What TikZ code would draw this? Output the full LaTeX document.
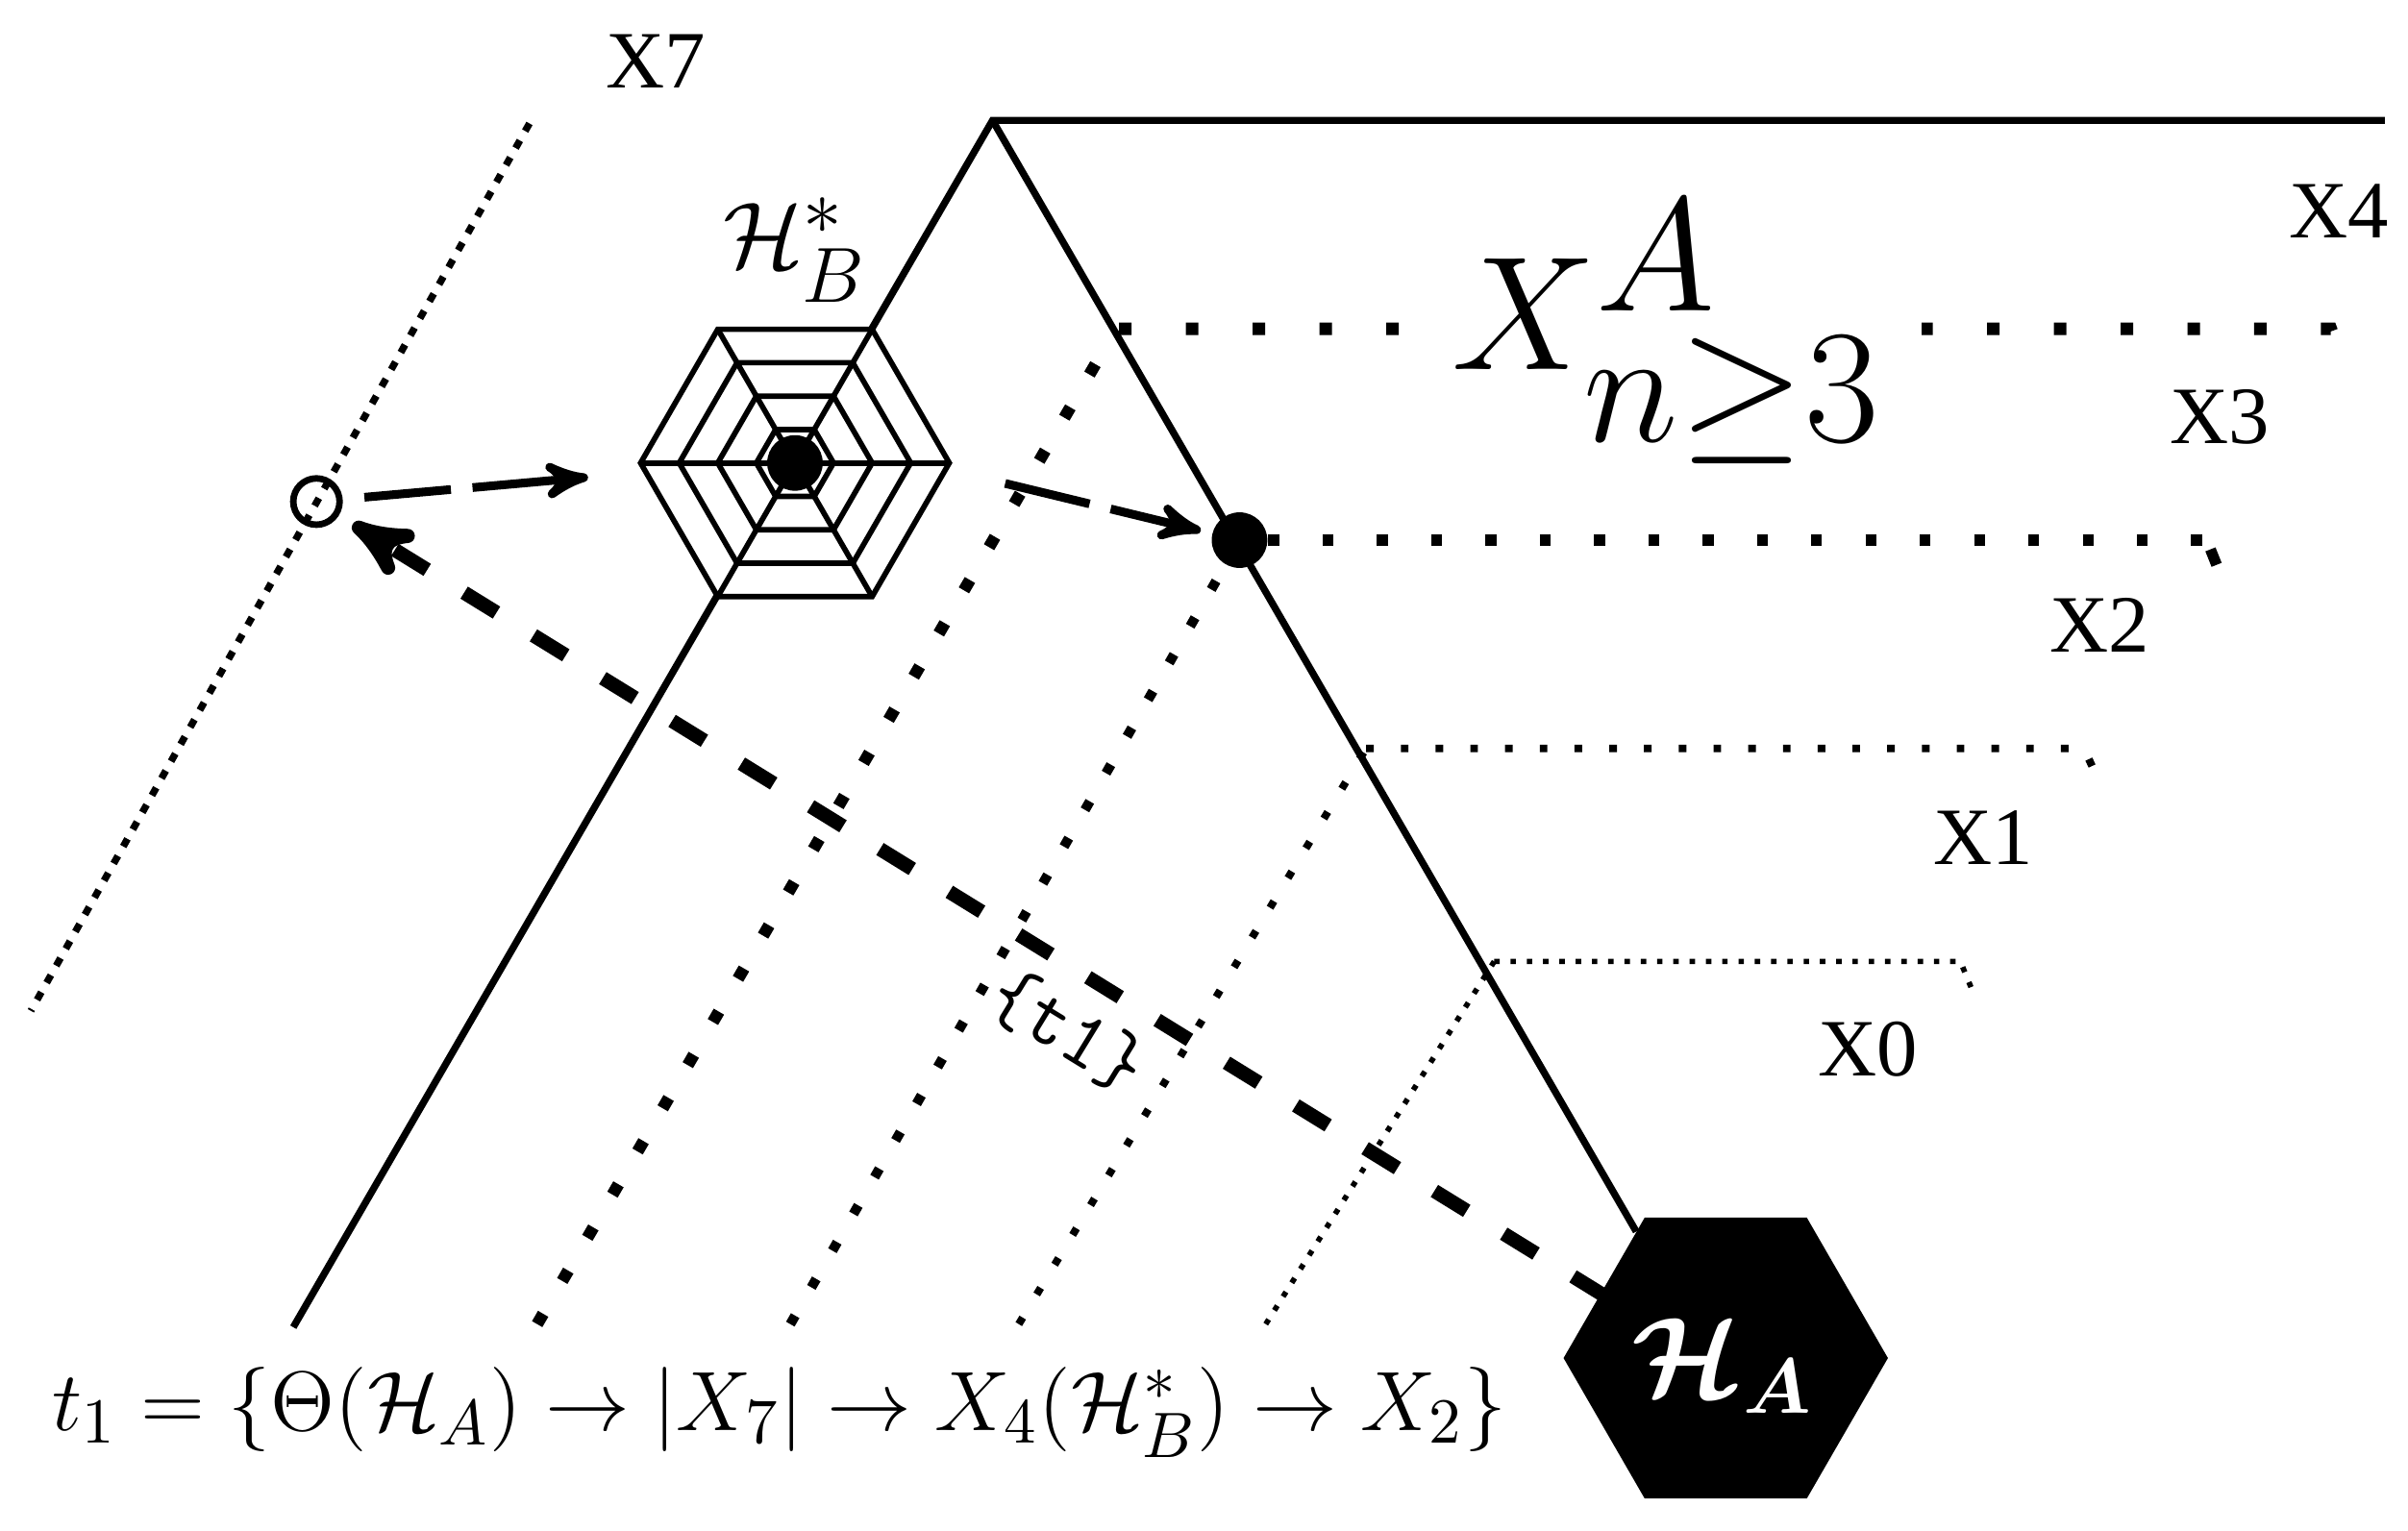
\documentclass[tikz,border=0pt]{standalone}
\usepackage{amsmath}
\usepackage{bm}
\usepackage{fontspec}
\newfontfamily\xlab{Liberation Serif}
\usetikzlibrary{arrows,shapes.geometric}
\tikzset{
  xlabel/.style={font=\xlab\fontsize{15}{15}\selectfont},
  edgeline/.style={line width=1.3pt},
  guide/.style={line width=1.6pt,dotted},
  hexedge/.style={line width=1pt},
  dot/.style={circle,fill=black,inner sep=0pt,minimum size=0.36cm},
}
\begin{document}
\begin{tikzpicture}[x=0.01cm,y=-0.01cm]
\useasboundingbox (0,0) rectangle (1560,992);
% frame lines
\coordinate (apex) at (643,78);
\coordinate (topR) at (1545,78);
\coordinate (leftB) at (190,860);
\node[regular polygon,regular polygon sides=6,fill=black,minimum size=2.1cm,inner sep=0pt] (HA) at (1118,880) {};
\node[text=white,font=\fontsize{21}{21}\selectfont] (HAl) at (1116,885) {$\bm{\mathcal{H}_A}$};
\draw[edgeline] (leftB) -- (apex) -- (topR);
\draw[edgeline] (apex) -- (1060,798);
% spider web
\coordinate (HB) at (515,300);
\foreach \r in {100,75,50,25} {
  \draw[hexedge,fill=white] (HB) ++(0:\r) -- ++(120:\r) -- ++(180:\r) -- ++(240:\r) -- ++(300:\r) -- ++(0:\r) -- cycle;
}
\foreach \a in {0,60,...,300} {
  \draw[hexedge] (HB) -- ++(\a:100);
}
\node[dot] (hub) at (HB) {};
\node[font=\fontsize{19}{19}\selectfont] (HBl) at (515,162) {$\mathcal{H}_B^*$};
% points
\node[dot] (p2) at (803,350) {};
\node[circle,draw,line width=1.2pt,minimum size=0.3cm,inner sep=0pt] (p7) at (205,325) {};
% level lines
\coordinate (s3) at (712,232);
\coordinate (s1) at (885,485);
\coordinate (s0) at (968,623);
\draw[guide,line width=1.3pt] (343,80) -- (20,655);
\draw[guide,line width=2.2pt,dash pattern=on 2.2pt off 7pt] (348,858) -- (s3);
\draw[guide,line width=1.8pt,dash pattern=on 1.8pt off 6pt] (512,858) -- (p2);
\draw[guide,line width=1.4pt,dash pattern=on 1.4pt off 5pt] (660,858) -- (s1);
\draw[dotted,line width=1pt] (820,858) -- (s0);
\draw[line width=2.3pt,dash pattern=on 2.3pt off 10pt] (725,213) -- (1510,213) -- (1517,232);
\draw[line width=2pt,dash pattern=on 2pt off 8pt] (p2) -- (1430,350);
\draw[line width=2pt] (1432,356) -- (1436,366);
\draw[line width=1.4pt,dash pattern=on 1.4pt off 5pt] (s1) -- (1350,485) -- (1357,500);
\draw[line width=1pt,dotted] (s0) -- (1270,623) -- (1277,640);
% big label
\node[fill=white,inner sep=6pt,scale=1.2,font=\fontsize{40}{40}\selectfont] (XA) at (1080,215) {$X^{A}_{n\geq 3}$};
% level names
\node[xlabel] (X7) at (425,40) {X7};
\node[xlabel] (X4) at (1515,137) {X4};
\node[xlabel] (X3) at (1438,270) {X3};
\node[xlabel] (X2) at (1360,405) {X2};
\node[xlabel] (X1) at (1285,543) {X1};
\node[xlabel] (X0) at (1210,680) {X0};
% path of t1
\draw[->,>=stealth',line width=1.6pt,dash pattern=on 16pt off 4pt,shorten >=4pt,shorten <=4pt] (p7) -- (395,308);
\draw[->,>=stealth',line width=1.6pt,dash pattern=on 16pt off 4pt,shorten <=10pt,shorten >=2pt] (617,305) -- (p2);
\draw[->,>=stealth',line width=2.6pt,dash pattern=on 7pt off 8pt,shorten >=3pt] (1040,840) -- (p7);
\node[font=\ttfamily\fontsize{15}{15}\selectfont,rotate=-31.5] (t1) at (692,668) {\{t1\}};
% formula
\node[fill=white,fill opacity=0.9,text opacity=1,scale=1.08,font=\fontsize{15}{15}\selectfont] (form) at (505,915)
  {$t_1=\{\Theta(\mathcal{H}_A)\rightarrow|X_7|\rightarrow X_4(\mathcal{H}_B^*)\rightarrow X_2\}$};
\end{tikzpicture}
\end{document}
